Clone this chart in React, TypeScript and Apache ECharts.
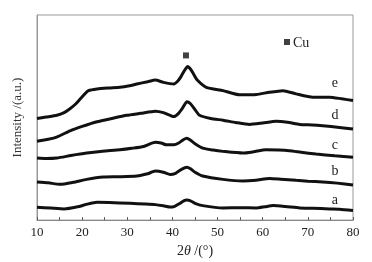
import React, { useEffect, useRef } from "react";
import * as echarts from "echarts";

// 2θ (degrees) and intensity (arbitrary units)
const curveA: [number, number][] = [
  [10, 13], [13, 12.2], [16, 11.3], [19, 13.5], [21, 16], [23.3, 18], [26, 17.8], [30.6, 17], [34, 16.3], [36.2, 15.7],
  [38, 14.5], [39.5, 13.2], [40.5, 14], [41.5, 16.5], [42.5, 19.5], [43.2, 20.3], [44, 19.5], [45, 17], [46.7, 14.7], [51.2, 12.3],
  [55, 12.5], [58.6, 12.3], [60.5, 13.5], [62.3, 14.7], [65, 13.8], [68.2, 12.3], [71, 12], [74.8, 11.3], [77, 11], [80, 9.7],
];
const curveB: [number, number][] = [
  [10, 38.7], [12.5, 37.8], [15.1, 36.3], [18, 38.3], [21, 41.3], [24.7, 43.7], [28, 44], [32.1, 44.7], [34.5, 47], [36.2, 49.7],
  [38, 48.5], [39.5, 46.3], [40.7, 47.5], [42, 51.5], [43.2, 53.7], [44, 52], [45, 48.5], [46.7, 44.7], [51.2, 41.3], [55.6, 39.7],
  [58.5, 40.5], [61.5, 42.3], [64, 41.5], [67.4, 40.3], [70, 39.5], [73.3, 38.7], [76.5, 37.5], [80, 35.7],
];
const curveC: [number, number][] = [
  [10, 63], [12, 62.5], [14.4, 63], [17.5, 65.5], [21, 68], [24.5, 69.8], [28.4, 71.3], [31, 72.8], [33.6, 74.7], [36.2, 79],
  [37.5, 78.2], [38.7, 76.3], [40.3, 76.3], [41.5, 78.5], [42.4, 81.5], [43.2, 83], [44, 81], [45, 77.5], [46.7, 73], [49, 71],
  [51.2, 69.7], [55.6, 68], [58, 69.3], [60.7, 71.3], [63.5, 71], [65.9, 70.3], [68.5, 68.8], [71.8, 67], [76, 65.2], [80, 63.7],
];
const curveD: [number, number][] = [
  [10, 80], [12.5, 82], [14.5, 84.5], [17.3, 90.5], [20, 95], [23.3, 99.7], [26.5, 103], [29.9, 106.3], [33, 108.3], [36.2, 110.5],
  [38, 109], [40.3, 105], [41.3, 108], [42.3, 114], [43.2, 120], [44, 118], [45, 112], [46, 106.3], [48.5, 103], [51.2, 101.3],
  [54, 99], [57.1, 97], [60, 98.5], [63, 100.3], [65.5, 99.3], [68.2, 97], [71, 96.5], [73.3, 95.7], [77, 94], [80, 92.3],
];
const curveE: [number, number][] = [
  [10, 103], [12, 104.5], [14.4, 106.3], [16, 109], [17.3, 113], [18.5, 117.5], [19.6, 123], [20.5, 127.5], [21.4, 131.3], [23.3, 133],
  [26, 134], [28.4, 134.7], [30.5, 136.3], [32.1, 138], [34.5, 140.3], [36.2, 142], [38, 139.7], [40.3, 138], [41.2, 141], [41.9, 145.5],
  [42.7, 152], [43.4, 155.7], [44.1, 152.5], [44.7, 148], [45.5, 142], [47.5, 134.7], [51.2, 131.3], [54.9, 127], [58.6, 127.3], [61.5, 129.7],
  [64.5, 131.3], [67.4, 128], [71.1, 124.7], [74.8, 124.7], [77.5, 123], [80, 121.3],
];
const curveNames = ["a", "b", "c", "d", "e"];
const curves = [curveA, curveB, curveC, curveD, curveE];
const labelPositions: [number, number][] = [[76, 21], [76, 50], [76, 77], [76, 107], [76, 140]];
const cuPeak: [number, number][] = [[43, 167]];
const xTicks = [10, 20, 30, 40, 50, 60, 70, 80];

export default function App() {
  const ref = useRef<HTMLDivElement>(null);
  useEffect(() => {
    if (!ref.current) return;
    const chart = echarts.init(ref.current, undefined, { renderer: "svg" });
    const serif = "'Liberation Serif', 'Times New Roman', serif";
    const lineSeries = curves.map((c, i) => ({
      type: "line",
      name: curveNames[i],
      data: c,
      smooth: 0.2,
      symbol: "none",
      lineStyle: { color: "#111", width: 3 },
      markPoint: {
        symbol: "circle",
        symbolSize: 0,
        data: [{ coord: labelPositions[i], value: curveNames[i] }],
        label: {
          show: true,
          formatter: curveNames[i],
          color: "#222",
          fontFamily: serif,
          fontSize: 14,
        },
      },
    }));
    chart.setOption({
      animation: false,
      grid: { left: 37, right: 19, top: 15, bottom: 39, show: true, borderColor: "#999", borderWidth: 1 },
      legend: {
        data: [{ name: "Cu", icon: "rect" }],
        left: 279,
        top: 30,
        itemWidth: 6,
        itemHeight: 6,
        itemGap: 4,
        textStyle: { fontFamily: serif, fontSize: 14, color: "#222", padding: [0, 0, 0, -2] },
      },
      xAxis: {
        type: "value",
        min: 10,
        max: 80,
        interval: 10,
        data: xTicks,
        axisLine: { show: true, lineStyle: { color: "#888" } },
        axisTick: { show: true, inside: true, length: 3, lineStyle: { color: "#555" } },
        minorTick: { show: true, splitNumber: 2, length: 3, lineStyle: { color: "#555" } },
        splitLine: { show: false },
        axisLabel: { color: "#222", fontFamily: serif, fontSize: 13, margin: 5 },
        name: "{n|2}{i|θ}{n| /(°)}",
        nameLocation: "middle",
        nameGap: 21,
        nameTextStyle: {
          rich: {
            n: { fontFamily: serif, fontSize: 14, color: "#222" },
            i: { fontFamily: serif, fontSize: 14, color: "#222", fontStyle: "italic" },
          },
        },
      },
      yAxis: {
        type: "value",
        min: 0,
        max: 208,
        axisLine: { show: true, lineStyle: { color: "#999" } },
        axisTick: { show: false },
        axisLabel: { show: false },
        splitLine: { show: false },
        name: "Intensity /(a.u.)",
        nameLocation: "middle",
        nameGap: 14,
        nameTextStyle: { fontFamily: serif, fontSize: 13, color: "#333" },
      },
      series: [
        ...lineSeries,
        {
          type: "scatter",
          name: "Cu",
          data: cuPeak,
          symbol: "rect",
          symbolSize: 6,
          itemStyle: { color: "#111" },
        },
      ],
    });
    return () => chart.dispose();
  }, []);
  return <div ref={ref} style={{ position: "fixed", left: 0, top: 0, width: 372, height: 262 }} />;
}
